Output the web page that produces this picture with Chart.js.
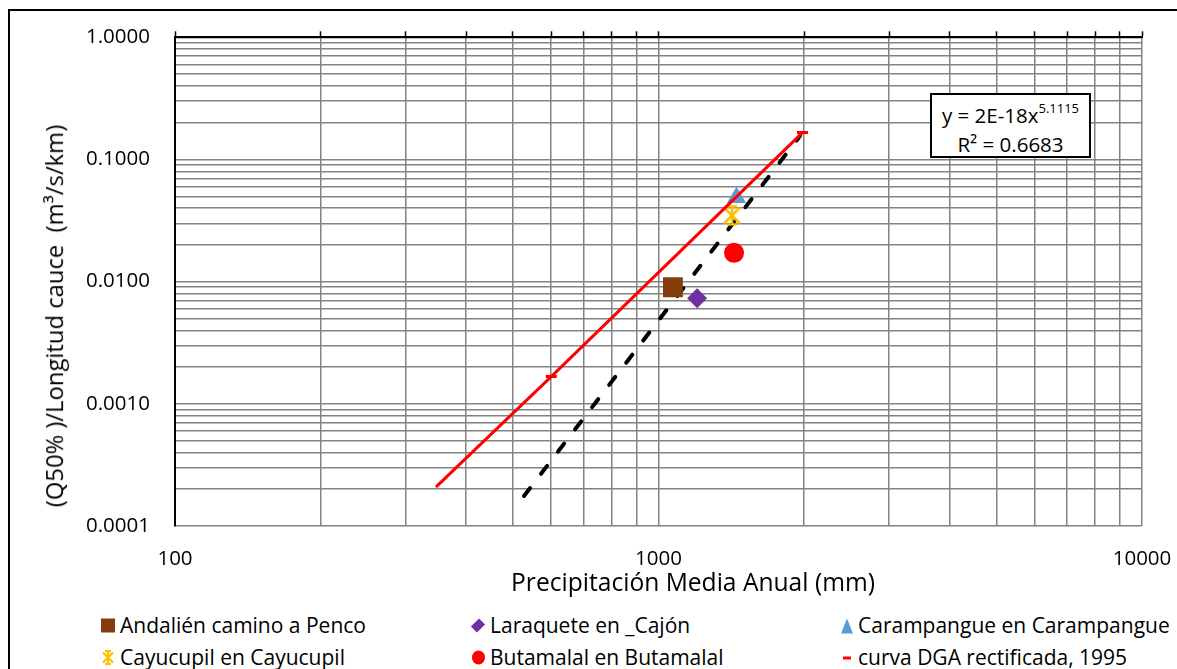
<!DOCTYPE html>
<html>
<head>
<meta charset="utf-8">
<script src="https://cdn.jsdelivr.net/npm/chart.js@4.4.1/dist/chart.umd.min.js"></script>
<style>
  html, body { margin: 0; padding: 0; background: #fff; }
  body { width: 1177px; height: 669px; overflow: hidden; position: relative; font-family: 'Open Sans', sans-serif; color: #000; }
  #frame { position: absolute; left: 8px; top: 9px; width: 2000px; height: 2000px; border-left: 2px solid #000; border-top: 2px solid #000; }
  #chart { position: absolute; left: 0; top: 0; }
  .axis-title { position: absolute; white-space: pre; line-height: 1; }
  #ytitle { left: 55px; top: 316px; font-size: 23.8px; transform: translate(-50%, -50%) rotate(-90deg); }
  #xtitle { left: 693px; top: 582px; font-size: 24.6px; transform: translate(-50%, -50%); }
  #eqbox { position: absolute; left: 930px; top: 93px; width: 157px; height: 60px; border: 2px solid #000; background: #fff; font-size: 20.5px; text-align: center; line-height: 29px; padding-top: 1px; }
  #eqbox sup { font-size: 13px; position: relative; top: -2px; }
  .leg { position: absolute; font-size: 21px; line-height: 1; white-space: nowrap; transform: translateY(-50%); display: flex; align-items: center; }
  .leg .mk { width: 16px; height: 16px; margin-right: 4px; position: relative; }
</style>
</head>
<body>
<div id="frame"></div>
<canvas id="chart" width="1177" height="600"></canvas>
<div id="ytitle" class="axis-title">(Q50% )/Longitud cauce  (m³/s/km)</div>
<div id="xtitle" class="axis-title">Precipitación Media Anual (mm)</div>
<div id="eqbox"></div>
<div id="legend"></div>
<script>
// stations (measured points)
const stationNames = ['Andalién camino a Penco', 'Laraquete en _Cajón', 'Carampangue en Carampangue', 'Cayucupil en Cayucupil', 'Butamalal en Butamalal'];
const stationPrecip = [1071, 1202, 1450, 1419, 1433];
const stationQ = [0.0090, 0.0073, 0.0488, 0.0348, 0.0172];
const stationColors = ['#843C0C', '#7030A0', '#5B9BD5', '#FFC000', '#FF0000'];

// DGA curve
const curveName = 'curva DGA rectificada, 1995';
const curvePrecip = [348, 600, 1985];
const curveQ = [0.000212, 0.00167, 0.166];

// power trendline (as drawn)
const trendPrecip = [527, 1962];
const trendQ = [0.000176, 0.156];
const trendEquation = 'y = 2E-18x';
const trendExponent = '5.1115';
const trendR2 = 'R² = 0.6683';

// axes
const xDecades = [100, 1000, 10000];
const yDecades = [0.0001, 0.001, 0.01, 0.1, 1];
const minorSteps = [1, 2, 3, 4, 5, 6, 7, 8, 9];

function logTicks(decades) {
  const out = [];
  decades.forEach((d, i) => {
    if (i === decades.length - 1) { out.push(d); return; }
    minorSteps.forEach(m => out.push(m * d));
  });
  return out;
}
const xTicks = logTicks(xDecades);
const yTicks = logTicks(yDecades);

function starMarker(color) {
  const c = document.createElement('canvas');
  c.width = 22; c.height = 22;
  const g = c.getContext('2d');
  g.strokeStyle = color;
  g.lineWidth = 2.5;
  g.beginPath();
  g.moveTo(3, 3); g.lineTo(19, 19);
  g.moveTo(19, 3); g.lineTo(3, 19);
  g.moveTo(11, 2); g.lineTo(11, 20);
  g.moveTo(6, 2); g.lineTo(16, 2);
  g.moveTo(6, 20); g.lineTo(16, 20);
  g.stroke();
  return c;
}

const pointStyles = ['rect', 'rectRot', 'triangle', starMarker(stationColors[3]), 'circle'];
const pointSizes = [14, 10, 11, 11, 10];

const gridGray = '#828282';

const datasets = [{
  label: curveName,
  data: curvePrecip.map((x, i) => ({ x, y: curveQ[i] })),
  showLine: true,
  borderColor: '#FF0000',
  borderWidth: 3,
  borderCapStyle: 'round',
  pointStyle: 'line',
  pointRadius: [0, 5.5, 5.5],
  pointBorderColor: '#FF0000',
  pointBorderWidth: 3,
  order: 0,
}];
stationNames.forEach((name, i) => {
  datasets.push({
    label: name,
    data: [{ x: stationPrecip[i], y: stationQ[i] }],
    pointStyle: pointStyles[i],
    pointRadius: pointSizes[i],
    backgroundColor: stationColors[i],
    borderColor: stationColors[i],
    borderWidth: 0,
    order: 1,
  });
});
datasets.push({
  label: 'trend',
  data: trendPrecip.map((x, i) => ({ x, y: trendQ[i] })),
  showLine: true,
  borderColor: '#000',
  borderWidth: 4,
  borderDash: [10, 18],
  borderCapStyle: 'round',
  pointRadius: 0,
  order: 2,
});

const tickFont = { family: "'Open Sans', sans-serif", size: 20.5 };

new Chart(document.getElementById('chart'), {
  type: 'scatter',
  data: { datasets },
  options: {
    responsive: false,
    animation: false,
    layout: { padding: { left: 0, right: 35, top: 29, bottom: 0 } },
    plugins: { legend: { display: false }, tooltip: { enabled: false } },
    scales: {
      x: {
        type: 'logarithmic', position: 'bottom', min: 100, max: 10000,
        afterBuildTicks: s => { s.ticks = xTicks.map(v => ({ value: v })); },
        afterFit: s => { s.height = 74; s.paddingLeft = 0; s.paddingRight = 0; },
        grid: { color: gridGray, lineWidth: 1.5, drawTicks: false },
        border: { display: false },
        ticks: {
          autoSkip: false, maxRotation: 0, padding: 21, color: '#000', font: tickFont,
          callback: v => xDecades.includes(v) ? String(v) : '',
        },
      },
      x2: {
        type: 'logarithmic', position: 'top', min: 100, max: 10000,
        afterBuildTicks: s => { s.ticks = xTicks.map(v => ({ value: v })); },
        afterFit: s => { s.height = 6; s.paddingLeft = 0; s.paddingRight = 0; },
        grid: { drawOnChartArea: false, drawTicks: true, tickLength: 6, tickColor: '#000', tickWidth: 1.5 },
        border: { color: '#000', width: 2 },
        ticks: { autoSkip: false, maxRotation: 0, padding: 0, callback: () => '' },
      },
      y: {
        type: 'logarithmic', position: 'left', min: 0.0001, max: 1,
        afterBuildTicks: s => { s.ticks = yTicks.map(v => ({ value: v })); },
        afterFit: s => { s.width = 175; },
        grid: { color: gridGray, lineWidth: 1.5, drawTicks: false },
        border: { color: '#000', width: 2 },
        ticks: {
          autoSkip: false, padding: 25, color: '#000', font: tickFont,
          callback: v => yDecades.includes(v) ? v.toFixed(4) : '',
        },
      },
    },
  },
});

// trendline label
document.getElementById('eqbox').innerHTML =
  trendEquation + '<sup>' + trendExponent + '</sup><br>' + trendR2;

// legend
const legendCols = [100, 470, 838];
const legendRows = [625, 657];
const order = [0, 1, 2, 3, 4, 'curve'];
function markerHtml(kind, color) {
  if (kind === 0) return `<div class="mk"><div style="position:absolute;left:1px;top:1px;width:14px;height:14px;background:${color}"></div></div>`;
  if (kind === 1) return `<div class="mk"><div style="position:absolute;left:3px;top:3px;width:10px;height:10px;background:${color};transform:rotate(45deg) scale(0.85,1.15)"></div></div>`;
  if (kind === 2) return `<div class="mk"><div style="position:absolute;left:3px;top:1px;width:0;height:0;border-left:6px solid transparent;border-right:6px solid transparent;border-bottom:15px solid ${color}"></div></div>`;
  if (kind === 3) return `<div class="mk"><svg width="16" height="16" style="position:absolute;left:0;top:0"><path d="M3 3L13 13M13 3L3 13M8 1V15M5 1.5H11M5 14.5H11" stroke="${color}" stroke-width="2.2" fill="none"/></svg></div>`;
  if (kind === 4) return `<div class="mk"><div style="position:absolute;left:2px;top:1px;width:13px;height:14px;border-radius:50%;background:${color}"></div></div>`;
  return `<div class="mk"><div style="position:absolute;left:5px;top:7px;width:8px;height:3px;background:#FF0000"></div></div>`;
}
const legendEl = document.getElementById('legend');
order.forEach((k, idx) => {
  const col = idx % 3, row = Math.floor(idx / 3);
  const name = k === 'curve' ? curveName : stationNames[k];
  const color = k === 'curve' ? '#FF0000' : stationColors[k];
  const el = document.createElement('div');
  el.className = 'leg';
  el.style.left = legendCols[col] + 'px';
  el.style.top = legendRows[row] + 'px';
  el.innerHTML = markerHtml(k === 'curve' ? 5 : k, color) + '<span>' + name + '</span>';
  legendEl.appendChild(el);
});
</script>
</body>
</html>
